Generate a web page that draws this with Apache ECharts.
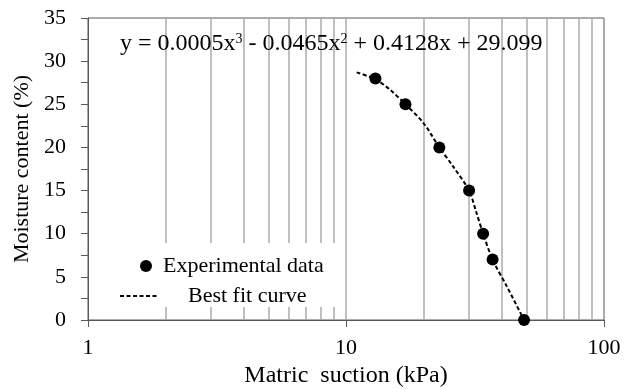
<!DOCTYPE html>
<html>
<head>
<meta charset="utf-8">
<script src="https://cdn.jsdelivr.net/npm/echarts@6/dist/echarts.min.js"></script>
<style>html,body{margin:0;padding:0;background:#fff}#c{width:624px;height:389px}</style>
</head>
<body>
<div id="c"></div>
<script>
// Data
const expX = [13, 17, 23, 30, 34, 37, 49];
const expY = [28, 25, 20, 15, 10, 7, 0];
const fitX = [11, 13, 14.8, 17, 20, 23, 26, 30, 31.9, 34, 37, 42, 49];
const fitY = [28.7, 27.9, 26.7, 25, 22.8, 20, 17.8, 15, 12.6, 10, 7, 3.9, 0];
const gridXValues = [2, 3, 4, 5, 6, 7, 8, 9, 10, 20, 30, 40, 50, 60, 70, 80, 90];
const xTicks = [1, 10, 100];
const yTicks = [0, 5, 10, 15, 20, 25, 30, 35];
const seriesNames = ['Experimental data', 'Best fit curve'];
const xTitle = 'Matric  suction (kPa)';
const yTitle = 'Moisture content (%)';

const FONT = 'Liberation Serif';
const AXC = '#595959';
const chart = echarts.init(document.getElementById('c'));
chart.setOption({
  animation: false,
  backgroundColor: '#fff',
  title: {
    text: 'y = 0.0005x{sup|3} - 0.0465x{sup|2} + 0.4128x + 29.099',
    left: 115, top: 27,
    textStyle: {
      fontFamily: FONT, fontSize: 24, fontWeight: 'normal', color: '#000',
      rich: { sup: { fontFamily: FONT, fontSize: 14, color: '#000', verticalAlign: 'top', padding: [0, 0, 8, 0] } }
    }
  },
  grid: { left: 88, right: 20, top: 18, bottom: 69, show: true, borderColor: AXC, borderWidth: 1, outerBoundsMode: 'none', containLabel: false },
  xAxis: {
    type: 'log', logBase: 10, min: xTicks[0], max: xTicks[xTicks.length - 1],
    name: xTitle, nameLocation: 'middle', nameGap: 43,
    nameTextStyle: { fontFamily: FONT, fontSize: 24, color: '#000' },
    axisLine: { lineStyle: { color: AXC, width: 1 } },
    axisTick: { show: true, length: 7, lineStyle: { color: AXC } },
    axisLabel: { fontFamily: FONT, fontSize: 22, color: '#000', margin: 17 },
    splitLine: { show: false }
  },
  yAxis: {
    type: 'value', min: yTicks[0], max: yTicks[yTicks.length - 1], interval: 5,
    name: yTitle, nameLocation: 'middle', nameGap: 55,
    nameTextStyle: { fontFamily: FONT, fontSize: 22, color: '#000' },
    axisLine: { show: true, lineStyle: { color: AXC, width: 1 } },
    axisTick: { show: true, length: 7, lineStyle: { color: AXC } },
    minorTick: { show: true, splitNumber: 2, length: 7, lineStyle: { color: AXC } },
    axisLabel: { fontFamily: FONT, fontSize: 22, color: '#000', margin: 22 },
    splitLine: { show: false }
  },
  legend: [
    {
      data: [seriesNames[0]], left: 140, top: 255, padding: 0,
      itemWidth: 12, itemHeight: 12, icon: 'circle', z: 6,
      itemStyle: { opacity: 1 },
      formatter: function (n) { return '{a|' + n + '}'; },
      textStyle: { fontFamily: FONT, fontSize: 22, color: '#000', rich: { a: { fontFamily: FONT, fontSize: 22, color: '#000', padding: [0, 0, 0, 6] } } }
    },
    {
      data: [seriesNames[1]], left: 119, top: 285, padding: 0,
      itemWidth: 37, itemHeight: 12, z: 6,
      itemStyle: { opacity: 0 },
      formatter: function (n) { return '{a|' + n + '}'; },
      textStyle: { fontFamily: FONT, fontSize: 22, color: '#000', rich: { a: { fontFamily: FONT, fontSize: 22, color: '#000', padding: [0, 0, 0, 26] } } }
    }
  ],
  graphic: [{
    type: 'rect', left: 100, top: 243, z: 3,
    shape: { width: 240, height: 64 }, style: { fill: '#fff' }, silent: true
  }],
  series: [
    {
      name: 'grid', type: 'line', data: [], z: 1, silent: true,
      markLine: {
        z: 1, silent: true, symbol: 'none', animation: false,
        label: { show: false },
        lineStyle: { color: '#ababab', width: 1.5, type: 'solid' },
        data: gridXValues.map(v => ({ xAxis: v }))
      }
    },
    {
      name: seriesNames[1], type: 'line', z: 4,
      data: fitX.map((x, i) => [x, fitY[i]]),
      smooth: 0.3, showSymbol: false, symbol: 'none',
      lineStyle: { color: '#000', width: 2, type: [4, 2.5] },
      itemStyle: { color: '#000' }
    },
    {
      name: seriesNames[0], type: 'scatter', z: 5,
      data: expX.map((x, i) => [x, expY[i]]),
      symbol: 'circle', symbolSize: 12,
      itemStyle: { color: '#000', opacity: 1 }
    }
  ]
});
</script>
</body>
</html>
